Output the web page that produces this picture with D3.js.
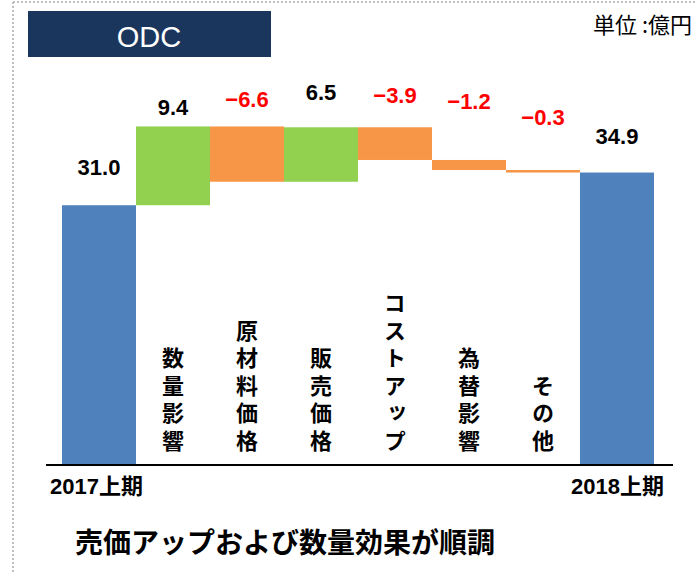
<!DOCTYPE html>
<html>
<head>
<meta charset="utf-8">
<script src="https://cdn.jsdelivr.net/npm/d3@7"></script>
<style>
  html, body { margin: 0; padding: 0; background: #fff; overflow: hidden; }
  svg { display: block; }
</style>
</head>
<body>
<div class="chart"></div>
<script>
// data
var categories = ['2017上期', '数量影響', '原材料価格', '販売価格', 'コストアップ', '為替影響', 'その他', '2018上期'];
var values = [31.0, 9.4, -6.6, 6.5, -3.9, -1.2, -0.3, 34.9];
var kinds = ['total', 'delta', 'delta', 'delta', 'delta', 'delta', 'delta', 'total'];
var valueLabels = ['31.0', '9.4', '−6.6', '6.5', '−3.9', '−1.2', '−0.3', '34.9'];
var title = 'ODC';
var unitText = '単位 :億円';
var caption = '売価アップおよび数量効果が順調';

// how far each value label sits above its bar (layout only)
var labelLift = [30, 11, 19, 27, 24, 51, 45, 29];

var W = 696, H = 573;
var baseY = 465;

var svg = d3.select('.chart')
  .append('svg')
  .attr('width', W)
  .attr('height', H);

var x = d3.scaleBand()
  .domain(categories)
  .range([62, 654])
  .padding(0);

var y = d3.scaleLinear()
  .domain([0, 55])
  .range([baseY, baseY - 55 * 8.38]);

// running totals for the waterfall
var running = 0;
var bars = categories.map(function(c, i) {
  var v = values[i], start, end;
  if (kinds[i] == 'total') {
    start = 0; end = v; running = v;
  } else {
    start = running; end = running + v; running = end;
  }
  return {cat: c, v: v, start: start, end: end, kind: kinds[i], label: valueLabels[i], lift: labelLift[i]};
});

function barColor(d) {
  if (d.kind == 'total') return '#4f81bd';
  return d.v >= 0 ? '#92d050' : '#f79646';
}

// dotted frame
svg.append('line')
  .attr('x1', 13).attr('y1', 2).attr('x2', W).attr('y2', 2)
  .attr('stroke', '#c0c0c0').attr('stroke-width', 2)
  .attr('stroke-dasharray', '2,2');
svg.append('line')
  .attr('x1', 13).attr('y1', 2).attr('x2', 13).attr('y2', H)
  .attr('stroke', '#c0c0c0').attr('stroke-width', 2)
  .attr('stroke-dasharray', '2,2');

// title box
svg.append('rect')
  .attr('x', 28).attr('y', 11).attr('width', 243).attr('height', 46)
  .style('fill', '#1b365d');
svg.append('text').text(title)
  .attr('x', 149).attr('y', 47)
  .attr('text-anchor', 'middle')
  .attr('fill', '#fff')
  .style('font-family', '"Liberation Sans", Arial, sans-serif')
  .style('font-size', '29px');

svg.append('text').text(unitText)
  .attr('x', 593).attr('y', 33)
  .attr('fill', '#000')
  .style('font-family', '"Noto Sans CJK JP", sans-serif')
  .style('font-size', '22px');

// bars
svg.selectAll('rect.bar')
  .data(bars)
  .enter().append('rect')
  .attr('class', 'bar')
  .attr('x', function(d) { return x(d.cat); })
  .attr('width', x.bandwidth())
  .attr('y', function(d) { return y(Math.max(d.start, d.end)); })
  .attr('height', function(d) { return Math.abs(y(d.start) - y(d.end)); })
  .style('fill', barColor);

// value labels
svg.selectAll('text.val')
  .data(bars)
  .enter().append('text')
  .attr('class', 'val')
  .text(function(d) { return d.label; })
  .attr('x', function(d) { return x(d.cat) + x.bandwidth() / 2; })
  .attr('y', function(d) { return y(Math.max(d.start, d.end)) - d.lift; })
  .attr('text-anchor', 'middle')
  .attr('fill', function(d) { return d.kind == 'delta' && d.v < 0 ? '#ff0000' : '#000'; })
  .style('font-family', '"Liberation Sans", Arial, sans-serif')
  .style('font-weight', 'bold')
  .style('font-size', '22px');

// vertical category labels for the steps
svg.selectAll('text.cat')
  .data(bars.filter(function(d) { return d.kind == 'delta'; }))
  .enter().append('text')
  .attr('class', 'cat')
  .text(function(d) { return d.cat; })
  .attr('x', function(d) { return x(d.cat) + x.bandwidth() / 2; })
  .attr('y', 457)
  .attr('text-anchor', 'end')
  .attr('fill', '#000')
  .style('writing-mode', 'vertical-rl')
  .style('text-orientation', 'upright')
  .style('letter-spacing', '5.5px')
  .style('font-family', '"Noto Sans CJK JP", sans-serif')
  .style('font-weight', 'bold')
  .style('font-size', '22px');

// baseline
svg.append('line')
  .attr('x1', 46).attr('x2', 673)
  .attr('y1', baseY).attr('y2', baseY)
  .attr('stroke', '#000').attr('stroke-width', 2);

// total labels under the axis
svg.append('text').text(categories[0])
  .attr('x', 50).attr('y', 494)
  .attr('fill', '#000')
  .style('font-family', '"Liberation Sans", "Noto Sans CJK JP", sans-serif')
  .style('font-weight', 'bold')
  .style('font-size', '22px');
svg.append('text').text(categories[categories.length - 1])
  .attr('x', 664).attr('y', 494)
  .attr('text-anchor', 'end')
  .attr('fill', '#000')
  .style('font-family', '"Liberation Sans", "Noto Sans CJK JP", sans-serif')
  .style('font-weight', 'bold')
  .style('font-size', '22px');

svg.append('text').text(caption)
  .attr('x', 75).attr('y', 553)
  .attr('fill', '#000')
  .style('font-family', '"Noto Sans CJK JP", sans-serif')
  .style('font-weight', 'bold')
  .style('font-size', '28px');
</script>
</body>
</html>
